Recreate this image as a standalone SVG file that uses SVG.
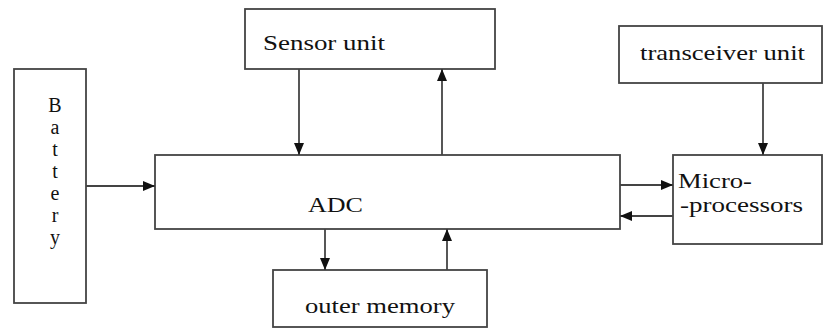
<svg xmlns="http://www.w3.org/2000/svg" width="823" height="331" viewBox="0 0 823 331">
<style>
.box{fill:#fff;stroke:#444;stroke-width:1.8}
.ln{fill:none;stroke:#444;stroke-width:1.8}
.t{font-family:'Liberation Serif','DejaVu Serif','Times New Roman',serif;font-size:22px;fill:#111}
.b{font-family:'Liberation Serif','DejaVu Serif','Times New Roman',serif;font-size:20px;fill:#111;text-anchor:middle}
</style>
<defs>
<marker id="ah" viewBox="0 0 12 10" refX="12" refY="5" markerWidth="12" markerHeight="10" markerUnits="userSpaceOnUse" orient="auto">
<path d="M0,0 L12,5 L0,10 Z" fill="#111"/>
</marker>
</defs>
<rect width="823" height="331" fill="#fff"/>
<g id="battery">
<rect class="box" x="14" y="69" width="72" height="234"/>
<text class="b" x="55" y="112" font-family="Liberation Serif, DejaVu Serif, serif">B</text>
<text class="b" x="55" y="134" font-family="Liberation Serif, DejaVu Serif, serif">a</text>
<text class="b" x="55" y="156" font-family="Liberation Serif, DejaVu Serif, serif">t</text>
<text class="b" x="55" y="178" font-family="Liberation Serif, DejaVu Serif, serif">t</text>
<text class="b" x="55" y="200" font-family="Liberation Serif, DejaVu Serif, serif">e</text>
<text class="b" x="55" y="222" font-family="Liberation Serif, DejaVu Serif, serif">r</text>
<text class="b" x="55" y="244" font-family="Liberation Serif, DejaVu Serif, serif">y</text>
</g>
<g id="sensor">
<rect class="box" x="245" y="9" width="250" height="60"/>
<text class="t" x="263" y="50" textLength="122" lengthAdjust="spacingAndGlyphs">Sensor unit</text>
</g>
<g id="transceiver">
<rect class="box" x="619" y="26" width="203" height="57"/>
<text class="t" x="640" y="60" textLength="165" lengthAdjust="spacingAndGlyphs">transceiver unit</text>
</g>
<g id="adc">
<rect class="box" x="155" y="155" width="465" height="74"/>
<text class="t" x="308" y="212" textLength="55" lengthAdjust="spacingAndGlyphs">ADC</text>
</g>
<g id="micro">
<rect class="box" x="673" y="155" width="149" height="89"/>
<text class="t" x="678" y="188" textLength="74" lengthAdjust="spacingAndGlyphs">Micro-</text>
<text class="t" x="680" y="212" textLength="123" lengthAdjust="spacingAndGlyphs">-processors</text>
</g>
<g id="memory">
<rect class="box" x="273" y="270" width="214" height="57"/>
<text class="t" x="305" y="313" textLength="150" lengthAdjust="spacingAndGlyphs">outer memory</text>
</g>
<g id="connectors">
<line class="ln" x1="86" y1="186" x2="155" y2="186" marker-end="url(#ah)"/>
<line class="ln" x1="299" y1="69" x2="299" y2="155" marker-end="url(#ah)"/>
<line class="ln" x1="442" y1="155" x2="442" y2="69" marker-end="url(#ah)"/>
<line class="ln" x1="763" y1="83" x2="763" y2="155" marker-end="url(#ah)"/>
<line class="ln" x1="620" y1="185" x2="673" y2="185" marker-end="url(#ah)"/>
<line class="ln" x1="673" y1="216" x2="620" y2="216" marker-end="url(#ah)"/>
<line class="ln" x1="325" y1="229" x2="325" y2="270" marker-end="url(#ah)"/>
<line class="ln" x1="447" y1="270" x2="447" y2="229" marker-end="url(#ah)"/>
</g>
</svg>
